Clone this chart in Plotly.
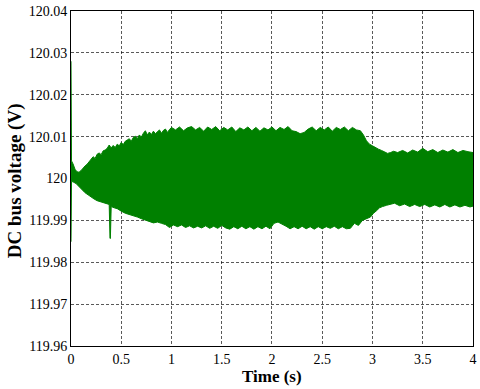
import plotly.graph_objects as go

# Upper envelope of the DC bus voltage (V) vs time (s)
t_upper = [0.000, 0.005, 0.02, 0.04, 0.06, 0.08, 0.10, 0.12, 0.14, 0.16, 0.18, 0.20,
           0.22, 0.24, 0.26, 0.28, 0.30, 0.32, 0.34, 0.36, 0.38, 0.40, 0.42, 0.44,
           0.46, 0.48, 0.50, 0.52, 0.54, 0.56, 0.58, 0.60, 0.62, 0.64, 0.66, 0.68,
           0.70, 0.72, 0.74, 0.76, 0.78, 0.80, 0.82, 0.84, 0.86, 0.88, 0.90, 0.92,
           0.94, 0.96, 0.98, 1.00, 1.04, 1.08, 1.12, 1.16, 1.20, 1.24, 1.28, 1.32,
           1.36, 1.40, 1.44, 1.48, 1.52, 1.56, 1.60, 1.64, 1.68, 1.72, 1.76, 1.80,
           1.84, 1.88, 1.92, 1.96, 2.00, 2.04, 2.08, 2.12, 2.16, 2.20, 2.24, 2.28,
           2.32, 2.36, 2.40, 2.44, 2.48, 2.52, 2.56, 2.60, 2.64, 2.68, 2.72, 2.76,
           2.80, 2.84, 2.88, 2.91, 2.94, 2.97, 3.00, 3.03, 3.06, 3.09, 3.12, 3.15,
           3.18, 3.21, 3.25, 3.30, 3.35, 3.40, 3.45, 3.50, 3.55, 3.60, 3.65, 3.70,
           3.75, 3.80, 3.85, 3.90, 3.95, 4.00]
v_upper = [120.0280, 120.0042, 120.0035, 120.0022, 120.0016, 120.0015, 120.0019, 120.0025,
           120.0030, 120.0034, 120.0040, 120.0046, 120.0052, 120.0048, 120.0058, 120.0061,
           120.0057, 120.0066, 120.0068, 120.0072, 120.0080, 120.0073, 120.0079, 120.0074,
           120.0082, 120.0078, 120.0086, 120.0081, 120.0089, 120.0092, 120.0095, 120.0089,
           120.0098, 120.0101, 120.0095, 120.0104, 120.0099, 120.0108, 120.0114, 120.0104,
           120.0111, 120.0105, 120.0113, 120.0107, 120.0112, 120.0116, 120.0108, 120.0115,
           120.0118, 120.0110, 120.0117, 120.0122, 120.0116, 120.0123, 120.0114, 120.0121,
           120.0124, 120.0116, 120.0122, 120.0113, 120.0123, 120.0117, 120.0124, 120.0114,
           120.0122, 120.0116, 120.0123, 120.0112, 120.0121, 120.0116, 120.0123, 120.0114,
           120.0122, 120.0113, 120.0121, 120.0116, 120.0123, 120.0114, 120.0122, 120.0117,
           120.0124, 120.0114, 120.0112, 120.0107, 120.0110, 120.0118, 120.0123, 120.0114,
           120.0122, 120.0116, 120.0123, 120.0113, 120.0122, 120.0117, 120.0123, 120.0114,
           120.0122, 120.0116, 120.0114, 120.0104, 120.0090, 120.0082, 120.0078, 120.0073,
           120.0070, 120.0067, 120.0064, 120.0060, 120.0062, 120.0065, 120.0062, 120.0067,
           120.0061, 120.0068, 120.0063, 120.0072, 120.0064, 120.0069, 120.0062, 120.0068,
           120.0063, 120.0069, 120.0062, 120.0067, 120.0064, 120.0062]

# Lower envelope of the DC bus voltage (V) vs time (s)
t_lower = [0.000, 0.005, 0.02, 0.05, 0.08, 0.11, 0.14, 0.17, 0.20, 0.23, 0.26, 0.29,
           0.32, 0.35, 0.38, 0.388, 0.392, 0.40, 0.43, 0.46, 0.50, 0.54, 0.58, 0.62,
           0.66, 0.70, 0.74, 0.78, 0.82, 0.86, 0.90, 0.94, 0.98, 1.02, 1.06, 1.10,
           1.14, 1.18, 1.22, 1.26, 1.30, 1.34, 1.38, 1.42, 1.46, 1.50, 1.54, 1.58,
           1.62, 1.66, 1.70, 1.74, 1.78, 1.82, 1.86, 1.90, 1.94, 1.98, 2.02, 2.06,
           2.10, 2.14, 2.18, 2.22, 2.26, 2.30, 2.34, 2.38, 2.42, 2.46, 2.50, 2.54,
           2.58, 2.62, 2.66, 2.70, 2.74, 2.78, 2.82, 2.86, 2.90, 2.94, 2.98, 3.01,
           3.04, 3.07, 3.10, 3.14, 3.18, 3.22, 3.27, 3.32, 3.37, 3.42, 3.47, 3.52,
           3.57, 3.62, 3.67, 3.72, 3.77, 3.82, 3.87, 3.92, 3.97, 4.00]
v_lower = [119.9849, 119.9993, 119.9992, 119.9988, 119.9980, 119.9973, 119.9966, 119.9961,
           119.9955, 119.9951, 119.9947, 119.9944, 119.9942, 119.9940, 119.9938, 119.9857,
           119.9857, 119.9933, 119.9930, 119.9928, 119.9922, 119.9917, 119.9914, 119.9911,
           119.9908, 119.9904, 119.9900, 119.9897, 119.9894, 119.9896, 119.9893, 119.9890,
           119.9883, 119.9889, 119.9885, 119.9889, 119.9883, 119.9887, 119.9882, 119.9886,
           119.9882, 119.9887, 119.9881, 119.9886, 119.9881, 119.9888, 119.9882, 119.9879,
           119.9885, 119.9880, 119.9886, 119.9880, 119.9885, 119.9879, 119.9885, 119.9880,
           119.9886, 119.9880, 119.9893, 119.9896, 119.9892, 119.9886, 119.9880, 119.9885,
           119.9880, 119.9886, 119.9880, 119.9885, 119.9879, 119.9885, 119.9880, 119.9885,
           119.9881, 119.9886, 119.9880, 119.9885, 119.9880, 119.9881, 119.9893, 119.9888,
           119.9900, 119.9904, 119.9908, 119.9917, 119.9923, 119.9930, 119.9933, 119.9936,
           119.9939, 119.9941, 119.9935, 119.9939, 119.9933, 119.9938, 119.9933, 119.9938,
           119.9932, 119.9937, 119.9932, 119.9938, 119.9932, 119.9937, 119.9932, 119.9936,
           119.9932, 119.9934]

x_ticks = [0, 0.5, 1, 1.5, 2, 2.5, 3, 3.5, 4]
x_ticklabels = ["0", "0.5", "1", "1.5", "2", "2.5", "3", "3.5", "4"]
y_ticks = [119.96, 119.97, 119.98, 119.99, 120.0, 120.01, 120.02, 120.03, 120.04]
y_ticklabels = ["119.96", "119.97", "119.98", "119.99", "120", "120.01", "120.02", "120.03", "120.04"]
x_title = "Time (s)"
y_title = "DC bus voltage (V)"

GREEN = "rgb(0,128,0)"
FONT = "Liberation Serif, Times New Roman, serif"

fig = go.Figure()
fig.add_trace(go.Scatter(
    x=t_upper + t_lower[::-1],
    y=v_upper + v_lower[::-1],
    mode="lines",
    fill="toself",
    fillcolor=GREEN,
    line=dict(color=GREEN, width=1),
    hoverinfo="skip",
    showlegend=False,
))

fig.update_layout(
    width=480, height=389,
    margin=dict(l=71, r=7, t=11, b=43, autoexpand=False),
    paper_bgcolor="white", plot_bgcolor="white",
    font=dict(family=FONT, size=14, color="black"),
    showlegend=False,
    annotations=[
        dict(text="<b>" + x_title + "</b>", xref="paper", yref="paper",
             x=0.5, y=-0.092, xanchor="center", yanchor="middle", showarrow=False,
             font=dict(family=FONT, size=17, color="black")),
        dict(text="<b>" + y_title + "</b>", xref="paper", yref="paper",
             x=-0.1394, y=0.495, xanchor="center", yanchor="middle", showarrow=False,
             textangle=-90, font=dict(family=FONT, size=19, color="black")),
    ],
)
fig.update_xaxes(
    range=[0, 4.0002], automargin=False,
    tickvals=x_ticks, ticktext=x_ticklabels,
    showline=True, linecolor="black", linewidth=1, mirror=True,
    showgrid=True, gridcolor="rgba(0,0,0,0.65)", gridwidth=1, griddash="3px,2px",
    zeroline=False, ticks="",
    tickfont=dict(family=FONT, size=14, color="black"),
)
fig.update_yaxes(
    range=[119.96, 120.04], automargin=False,
    tickvals=y_ticks, ticktext=y_ticklabels,
    showline=True, linecolor="black", linewidth=1, mirror=True,
    showgrid=True, gridcolor="rgba(0,0,0,0.65)", gridwidth=1, griddash="3px,2px",
    zeroline=False, ticks="",
    tickfont=dict(family=FONT, size=14, color="black"),
)

fig.write_html("out.html", config={"displayModeBar": False},
               post_script="document.body.style.margin='0';document.body.style.overflow='hidden';")
